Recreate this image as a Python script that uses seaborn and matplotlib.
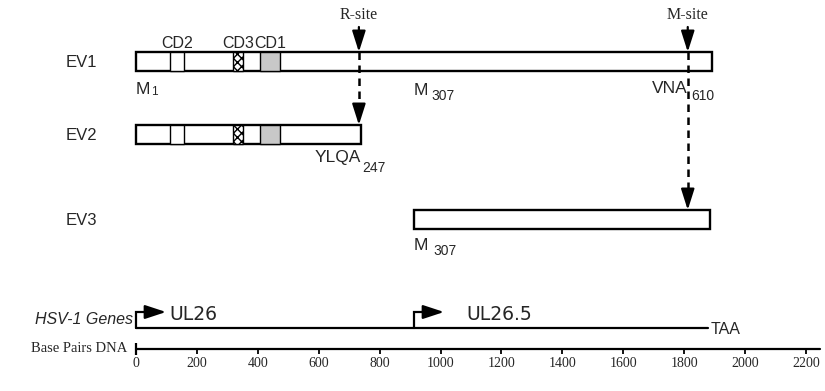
import matplotlib
matplotlib.use("Agg")
import matplotlib.pyplot as plt
import seaborn as sns
import pandas as pd
from matplotlib.patches import Rectangle

# ---------------- data ----------------
constructs = ["EV1", "EV2", "EV3"]
construct_start_bp = [0, 0, 913]
construct_end_bp = [1892, 739, 1885]

domain_names = ["CD2", "CD3", "CD1"]
domain_start_bp = [112, 319, 407]
domain_end_bp = [158, 351, 473]

site_names = ["R-site", "M-site"]
site_bp = [732, 1812]
site_target = ["EV2", "EV3"]

residue_construct = ["EV1", "EV1", "EV1", "EV2", "EV3"]
residue_text = ["M", "M", "VNA", "YLQA", "M"]
residue_number = ["1", "307", "610", "247", "307"]
residue_bp = [0, 913, 1812, 739, 913]

gene_names = ["UL26", "UL26.5"]
gene_start_bp = [0, 913]
gene_end_bp = 1878
stop_codon = "TAA"

bp_ticks = [0, 200, 400, 600, 800, 1000, 1200, 1400, 1600, 1800, 2000, 2200]
bp_axis_end = 2246

# ---------------- layout (pixels / points) ----------------
PX_PER_BP = 0.3045
X0_PX = 136
W, H = 825, 391
box_top = {"EV1": 52, "EV2": 125, "EV3": 210}
box_h = 19
residue_align = ["left", "left", "right", "right", "left"]
residue_baseline = [94, 95, 93, 162, 250]
residue_gap = [0.3, 2.2, 2.5, 0.7, 3.5]
residue_drop = [-1.5, 1.7, 3.0, 4.8, 1.7]
residue_size = [8.5, 10, 10, 10, 10]
gene_line_y = 328
promoter_y = 312
gene_text_gap_px = [3, 22]
axis_y = 349

SANS = "Liberation Sans"
SERIF = "Liberation Serif"

sns.set_theme(style="white")
plt.rcParams["font.family"] = [SANS, "DejaVu Sans"]

fig = plt.figure(figsize=(W / 100, H / 100), dpi=100)
ax = fig.add_axes([0, 0, 1, 1])
ax.set_xlim(-X0_PX / PX_PER_BP, (W - X0_PX) / PX_PER_BP)
ax.set_ylim(H, 0)
ax.axis("off")

def px(n):
    return n / PX_PER_BP

df = pd.DataFrame({"name": constructs, "start": construct_start_bp, "end": construct_end_bp})

# construct boxes with domains
for _, r in df.iterrows():
    top = box_top[r["name"]]
    ax.add_patch(Rectangle((r["start"], top), r["end"] - r["start"], box_h,
                           facecolor="white", edgecolor="black", lw=1.7, zorder=2))
    for dn, ds, de in zip(domain_names, domain_start_bp, domain_end_bp):
        if r["start"] <= ds and de <= r["end"]:
            if dn == "CD3":
                kw = dict(facecolor="white", hatch="xxxx")
            elif dn == "CD1":
                kw = dict(facecolor="#c8c8c8")
            else:
                kw = dict(facecolor="white")
            ax.add_patch(Rectangle((ds, top), de - ds, box_h, edgecolor="black",
                                   lw=1.0, zorder=3, **kw))
    ax.annotate(r["name"], xy=(0, top + box_h / 2 + 1), xytext=(-51, 0),
                textcoords="offset points", ha="left", va="center", fontsize=12)

# domain labels above EV1
for dn, ds, de in zip(domain_names, domain_start_bp, domain_end_bp):
    ax.text((ds + de) / 2, 43, dn, ha="center", va="center", fontsize=11.5)

# residue labels with subscripts
for c, t, n, x, al, yb, gp, dr, fs in zip(residue_construct, residue_text, residue_number,
                                          residue_bp, residue_align, residue_baseline,
                                          residue_gap, residue_drop, residue_size):
    main = ax.text(x, yb, t, ha=al, va="baseline", fontsize=12.5)
    ax.annotate(n, xy=(1, 0), xycoords=main, xytext=(gp, -dr),
                textcoords="offset points", ha="left", va="baseline", fontsize=fs)

# cleavage sites
for name, s, tgt in zip(site_names, site_bp, site_target):
    ax.text(s, 15, name, ha="center", va="center", fontsize=11.5,
            family=SERIF)
    ax.annotate("", xy=(s, box_top["EV1"]), xytext=(s, 27),
                arrowprops=dict(arrowstyle="-|>,head_length=0.85,head_width=0.27",
                                mutation_scale=15, lw=1.6, color="black",
                                shrinkA=0, shrinkB=0), zorder=5)
    tgt_top = box_top[tgt]
    ax.plot([s, s], [box_top["EV1"], tgt_top - 16], ls=(0, (3, 2.2)), lw=1.8,
            color="black", zorder=4)
    ax.annotate("", xy=(s, tgt_top), xytext=(s, tgt_top - 17),
                arrowprops=dict(arrowstyle="-|>,head_length=0.85,head_width=0.27",
                                mutation_scale=15, lw=1.6, color="black",
                                shrinkA=0, shrinkB=0), zorder=5)

# HSV-1 genes
gene_df = pd.DataFrame({"x": [gene_start_bp[0], gene_end_bp], "y": [gene_line_y, gene_line_y]})
sns.lineplot(data=gene_df, x="x", y="y", ax=ax, color="black", lw=1.6, legend=False)
for g, s, gap in zip(gene_names, gene_start_bp, gene_text_gap_px):
    ax.plot([s, s, s + px(12)], [gene_line_y, promoter_y, promoter_y], color="black",
            lw=1.6, solid_joinstyle="miter")
    ax.annotate("", xy=(s + px(30), promoter_y), xytext=(s + px(8), promoter_y),
                arrowprops=dict(arrowstyle="-|>,head_length=0.85,head_width=0.28",
                                mutation_scale=15, lw=1.6, color="black",
                                shrinkA=0, shrinkB=0))
    ax.text(s + px(30 + gap), 320, g, ha="left", va="baseline", fontsize=13.5,
            family="DejaVu Sans")
ax.text(gene_end_bp + px(3), gene_line_y + 1, stop_codon, ha="left", va="center",
        fontsize=11.5)
ax.annotate("HSV-1 Genes", xy=(0, 320), xytext=(-2.5, 0), textcoords="offset points",
            ha="right", va="center", fontsize=11.5, style="italic")

# base pair scale
axis_df = pd.DataFrame({"x": [0, bp_axis_end], "y": [axis_y, axis_y]})
sns.lineplot(data=axis_df, x="x", y="y", ax=ax, color="black", lw=1.6, legend=False)
ax.vlines([bp_ticks[0]], axis_y - 6, axis_y + 6, color="black", lw=1.6)
ax.vlines(bp_ticks, axis_y, axis_y + 5, color="black", lw=1.3)
for t in bp_ticks:
    ax.text(t, 357, str(t), ha="center", va="top", fontsize=10, family=SERIF)
ax.annotate("Base Pairs DNA", xy=(0, axis_y), xytext=(-6.5, 0), textcoords="offset points",
            ha="right", va="center", fontsize=10.5, family=SERIF)

ax.set_xlabel("")
ax.set_ylabel("")
fig.savefig("out.png", dpi=100)
